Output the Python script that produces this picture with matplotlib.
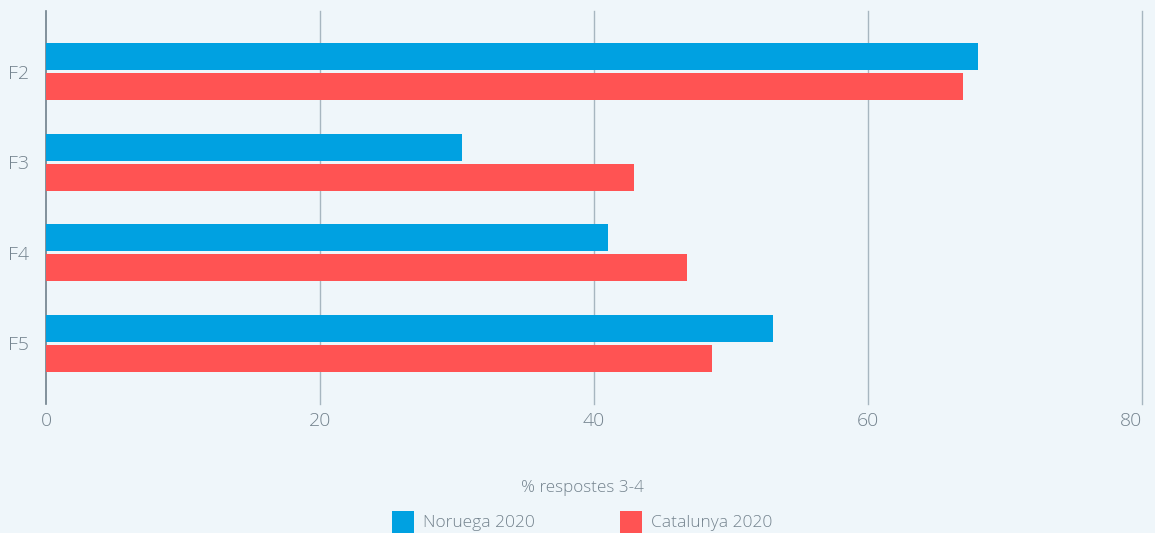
import matplotlib
matplotlib.use("Agg")
import matplotlib.pyplot as plt
from matplotlib.patches import Rectangle
import numpy as np

categories = ["F2", "F3", "F4", "F5"]
series_names = ["Noruega 2020", "Catalunya 2020"]
noruega = [68.0, 30.4, 41.0, 53.1]
catalunya = [66.9, 42.9, 46.8, 48.6]
xticks = [0, 20, 40, 60, 80]
xlabel = "% respostes 3-4"

BG = "#EFF6FA"
BLUE = "#00A1E1"
RED = "#FF5353"
TXT = "#74838E"

plt.rcParams['font.family'] = ['Open Sans', 'DejaVu Sans']
plt.rcParams['font.weight'] = 'light'

W, H = 1155, 533
fig = plt.figure(figsize=(W/100, H/100), dpi=100, facecolor=BG)
ax = fig.add_axes([46/W, (H-404)/H, (1142-46)/W, (404-11)/H], facecolor=BG)

y = np.arange(len(categories))
bh = 0.298
off = 0.166
ax.barh(y - off, noruega, height=bh, color=BLUE, zorder=3)
ax.barh(y + off, catalunya, height=bh, color=RED, zorder=3)

ax.set_xlim(0, 80)
ax.set_ylim(3.674, -0.674)
ax.set_xticks(xticks)
ax.set_xticklabels([str(t) for t in xticks])
ax.set_yticks(y)
ax.set_yticklabels(categories)
for s in ax.spines.values():
    s.set_visible(False)
for t in xticks:
    ax.axvline(t, color="#6F808B" if t == 0 else "#A7B6C0", lw=1.0 if t != 0 else 1.2,
               zorder=2, clip_on=False)
ax.tick_params(axis='x', length=0, pad=6, labelsize=14, labelcolor=TXT)
ax.tick_params(axis='y', length=0, pad=12, labelsize=14, labelcolor=TXT)
ax.get_xticklabels()[-1].set_ha('right')

fig.text(582/W, 1 - 488/H, xlabel, ha='center', va='center', fontsize=12.3, color=TXT)

legend_x = [392, 620]
colors = [BLUE, RED]
for lx, name, c in zip(legend_x, series_names, colors):
    fig.patches.append(Rectangle((lx/W, 0), 22/W, 22/H, transform=fig.transFigure,
                                 facecolor=c, edgecolor='none'))
    fig.text((lx + 31)/W, 1 - 523/H, name, ha='left', va='center', fontsize=12.5, color=TXT)

fig.savefig("out.png", dpi=100, facecolor=BG)
